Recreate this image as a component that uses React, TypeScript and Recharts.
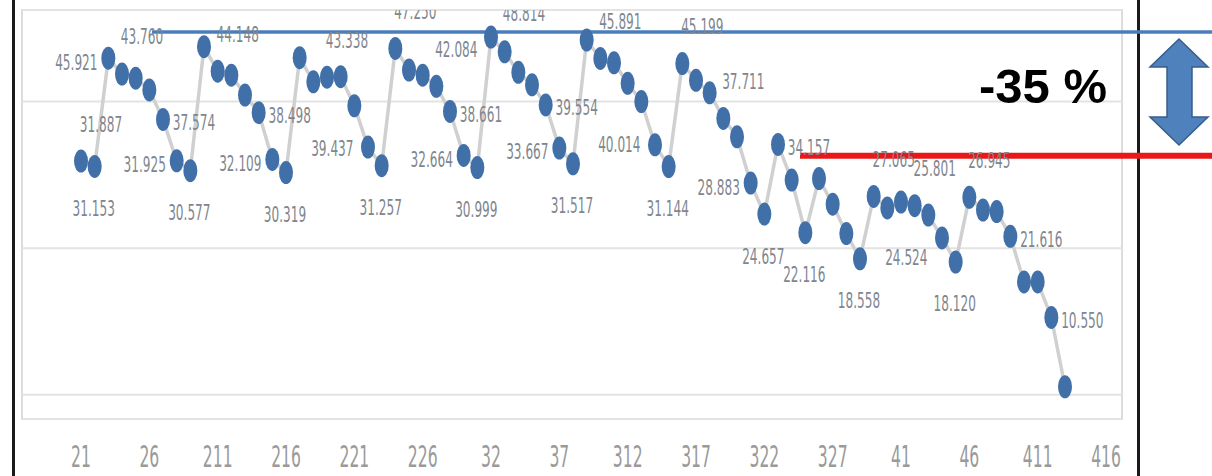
import { CartesianGrid, Line, LineChart, ReferenceLine, XAxis, YAxis } from "recharts";

// every day shown on the axis, 2020 (leap year)
const days = [
  "2/1", "2/2", "2/3", "2/4", "2/5", "2/6", "2/7", "2/8", "2/9", "2/10",
  "2/11", "2/12", "2/13", "2/14", "2/15", "2/16", "2/17", "2/18", "2/19", "2/20",
  "2/21", "2/22", "2/23", "2/24", "2/25", "2/26", "2/27", "2/28", "2/29",
  "3/1", "3/2", "3/3", "3/4", "3/5", "3/6", "3/7", "3/8", "3/9", "3/10",
  "3/11", "3/12", "3/13", "3/14", "3/15", "3/16", "3/17", "3/18", "3/19", "3/20",
  "3/21", "3/22", "3/23", "3/24", "3/25", "3/26", "3/27", "3/28", "3/29", "3/30", "3/31",
  "4/1", "4/2", "4/3", "4/4", "4/5", "4/6", "4/7", "4/8", "4/9", "4/10",
  "4/11", "4/12", "4/13", "4/14", "4/15", "4/16",
];

// daily values from 2/1 to 4/13 (unlabelled points)
const values = [
  31.887, 31.153, 45.921, 43.76, 43.2, 41.6, 37.574, 31.925, 30.577,
  47.5, 44.148, 43.6, 40.9, 38.498, 32.109, 30.319,
  46.0, 42.7, 43.338, 43.4, 39.437, 33.8, 31.257,
  47.25, 44.3, 43.6, 42.084, 38.661, 32.664, 30.999,
  48.814, 46.8, 44.0, 42.3, 39.554, 33.667, 31.517,
  48.4, 45.891, 45.3, 42.5, 40.014, 34.1, 31.144,
  45.199, 42.9, 41.2, 37.711, 35.2, 28.883, 24.657,
  34.157, 29.3, 22.116, 29.5, 26.0, 22.0, 18.558,
  27.065, 25.5, 26.3, 25.801, 24.524, 21.4, 18.12,
  26.945, 25.2, 25.0, 21.616, 15.4, 15.4, 10.55,
  1.1,
];

const gridValues = [0, 20, 40];
const topLevel = 49.5;
const bottomLevel = 32.6;
const changeText = "-35 %";

// which points carry a data label, and on which side
const labelSide: Record<string, string> = {
  "2/1": "AR", "2/2": "B", "2/3": "L", "2/4": "AR", "2/7": "R", "2/8": "L", "2/9": "B",
  "2/11": "AR", "2/14": "R", "2/15": "L", "2/16": "B",
  "2/19": "AR", "2/21": "BL", "2/23": "B",
  "2/24": "AR", "2/27": "AR", "2/28": "R", "2/29": "L", "3/1": "B",
  "3/2": "TR", "3/6": "R", "3/7": "L", "3/8": "B",
  "3/10": "AR", "3/13": "BL", "3/15": "B",
  "3/16": "AR", "3/19": "AR", "3/21": "L", "3/22": "B",
  "3/23": "R", "3/25": "B", "3/29": "B",
  "3/30": "AR", "4/2": "AR", "4/3": "BL", "4/5": "B",
  "4/6": "AR", "4/9": "R", "4/12": "R",
};

const offsets: Record<string, [number, number]> = {
  R: [31, 3],
  L: [-32, 4],
  B: [-1, 42],
  AR: [20, -37],
  BL: [-22, 43],
  TR: [33, -23],
};

const data = days.map((day, i) => ({ day, value: values[i] }));

const FONT = "DejaVu Sans";

const PointDot = (props: any) => {
  const { cx, cy, index, payload } = props;
  if (cx == null || cy == null || payload?.value == null) return <g key={`dot-${index}`} />;
  const side = labelSide[payload.day];
  const off = side ? offsets[side] : null;
  return (
    <g key={`dot-${index}`}>
      <ellipse cx={cx} cy={cy} rx={7} ry={11.5} fill="#4170a9" />
      {off && (
        <g clipPath="url(#plot-top-clip)">
          <text
            transform={`translate(${cx + off[0]},${cy + off[1]}) scale(0.55,1)`}
            textAnchor="middle"
            dominantBaseline="central"
            fontSize={22}
            fontFamily={FONT}
            fill="#80868e"
          >
            {payload.value.toFixed(3)}
          </text>
        </g>
      )}
    </g>
  );
};

const DayTick = ({ x, y, payload }: any) => (
  <text
    transform={`translate(${x},${y + 38}) scale(0.52,1)`}
    textAnchor="middle"
    dominantBaseline="central"
    fontSize={30}
    fontFamily={FONT}
    fill="#9a9a9a"
  >
    {String(payload.value).replace("/", "")}
  </text>
);

const toEdge = (startX: number, color: string, width: number) => (p: any) =>
  <line x1={startX} y1={p.y1} x2={1212} y2={p.y2} stroke={color} strokeWidth={width} />;

const App = () => {
  return (
    <div style={{ position: "absolute", left: 0, top: 0, width: 1212, height: 476, background: "#fff", overflow: "hidden" }}>
      <div style={{ position: "absolute", left: 12, top: 0, width: 3, height: 476, background: "#1a1a1a" }} />
      <div style={{ position: "absolute", left: 1137, top: 0, width: 3, height: 476, background: "#1a1a1a" }} />
      <div
        style={{
          position: "absolute", left: 21, top: 9, width: 1102, height: 411,
          border: "2px solid #dcdcdc", boxSizing: "border-box",
        }}
      />
      <div style={{ position: "absolute", left: 0, top: 0 }}>
        <LineChart width={1212} height={476} data={data} margin={{ top: 10, right: 90, bottom: 0, left: 22 }}>
          <CartesianGrid vertical={false} stroke="#e3e3e3" strokeWidth={2} />
          <XAxis
            dataKey="day"
            interval={4}
            padding={{ left: 59, right: 16 }}
            height={57}
            axisLine={false}
            tickLine={false}
            tickSize={0}
            tickMargin={0}
            tick={<DayTick />}
          />
          <YAxis hide domain={[-3.3, 52.5]} ticks={gridValues} allowDataOverflow />
          <Line
            dataKey="value"
            stroke="#d0d0d0"
            strokeWidth={3.5}
            dot={PointDot}
            activeDot={false}
            isAnimationActive={false}
          />
          <ReferenceLine y={topLevel} shape={toEdge(152, "#4a7ebb", 3.5)} />
          <ReferenceLine y={bottomLevel} shape={toEdge(800, "#e81818", 6)} />
        </LineChart>
      </div>
      <svg width={1212} height={476} style={{ position: "absolute", left: 0, top: 0, pointerEvents: "none" }}>
        <defs>
          <clipPath id="plot-top-clip" clipPathUnits="userSpaceOnUse">
            <rect x={0} y={10} width={1212} height={466} />
          </clipPath>
        </defs>
        <text x={1043} y={103} textAnchor="middle" fontSize={49} fontWeight="bold" fontFamily="Liberation Sans" fill="#000">
          {changeText}
        </text>
        <polygon
          points="1179,39 1208,67 1192,67 1192,117 1208,117 1179,145 1150,117 1167,117 1167,67 1150,67"
          fill="#4f81bd"
          stroke="#385d8a"
          strokeWidth={1.5}
        />
      </svg>
    </div>
  );
};

export default App;
